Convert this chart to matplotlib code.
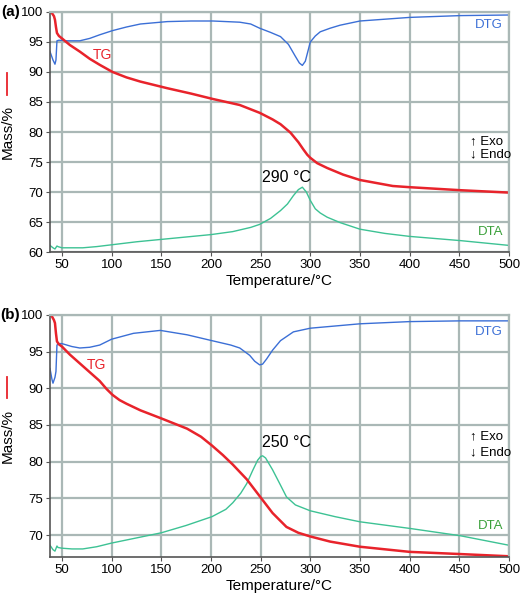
## TG / DTG / DTA curves for two samples, (a) and (b)

import numpy as np
import matplotlib
matplotlib.use('Agg')
import matplotlib.pyplot as plt
from matplotlib.lines import Line2D

plt.rcParams['font.family'] = ['Liberation Sans', 'DejaVu Sans']

## data (temperature in degC, signal in axis units)

# panel (a)
tg_a_t = [38, 40, 42, 43, 44, 45, 47, 50, 58, 68, 78, 88, 101, 115, 129, 156, 180, 202, 229, 249, 262, 270, 280, 288, 293, 297, 300, 307, 317, 333, 350, 383, 400, 451, 500]
tg_a_y = [100, 99.8, 99.3, 98.7, 97.5, 96.5, 96.0, 95.6, 94.5, 93.4, 92.2, 91.2, 90.0, 89.1, 88.4, 87.3, 86.4, 85.5, 84.5, 83.2, 82.1, 81.3, 79.9, 78.3, 77.1, 76.2, 75.7, 74.8, 74.0, 72.9, 72.0, 71.0, 70.8, 70.3, 69.9]

dtg_a_t = [38, 41, 43, 44, 45, 47, 55, 68, 78, 88, 101, 115, 129, 156, 180, 202, 229, 240, 249, 260, 270, 278, 285, 289, 292, 295, 300, 305, 310, 320, 330, 350, 400, 451, 500]
dtg_a_y = [93.4, 92.0, 91.3, 92.0, 95.2, 95.3, 95.2, 95.2, 95.6, 96.2, 96.9, 97.5, 98.0, 98.4, 98.5, 98.5, 98.3, 98.0, 97.3, 96.6, 95.9, 94.6, 92.6, 91.5, 91.1, 91.8, 95.0, 96.0, 96.7, 97.3, 97.8, 98.5, 99.1, 99.4, 99.5]

dta_a_t = [38, 41, 43, 45, 46, 50, 60, 71, 85, 100, 125, 150, 175, 200, 222, 240, 249, 260, 270, 277, 283, 288, 292, 296, 300, 305, 310, 317, 330, 350, 375, 400, 451, 500]
dta_a_y = [61.1, 60.7, 60.5, 61.0, 60.9, 60.7, 60.7, 60.7, 60.9, 61.2, 61.7, 62.1, 62.5, 62.9, 63.4, 64.1, 64.6, 65.6, 66.9, 68.0, 69.4, 70.4, 70.8, 70.0, 68.6, 67.2, 66.5, 65.8, 64.9, 63.8, 63.1, 62.6, 61.9, 61.1]

# panel (b)
tg_b_t = [38, 40, 42, 43, 44, 45, 47, 50, 58, 68, 78, 88, 95, 101, 108, 115, 129, 150, 176, 190, 201, 212, 222, 236, 249, 262, 276, 288, 300, 320, 350, 400, 451, 500]
tg_b_y = [100, 99.8, 99.3, 98.9, 97.5, 96.4, 96.0, 95.7, 94.6, 93.4, 92.2, 91.0, 89.9, 89.1, 88.4, 87.9, 87.0, 85.9, 84.5, 83.4, 82.2, 80.9, 79.6, 77.6, 75.3, 73.0, 71.1, 70.3, 69.8, 69.1, 68.4, 67.7, 67.4, 67.1]

dtg_b_t = [38, 40, 41, 43, 44, 45, 47, 50, 60, 68, 78, 88, 100, 122, 149, 176, 201, 220, 229, 239, 244, 249, 252, 256, 262, 270, 283, 300, 350, 400, 451, 500]
dtg_b_y = [92.7, 91.2, 90.7, 91.5, 92.3, 95.9, 96.1, 96.1, 95.7, 95.5, 95.6, 95.9, 96.7, 97.5, 97.9, 97.3, 96.5, 95.9, 95.5, 94.5, 93.7, 93.2, 93.3, 94.0, 95.2, 96.5, 97.7, 98.2, 98.8, 99.1, 99.2, 99.2]

dta_b_t = [38, 41, 43, 45, 46, 50, 60, 71, 85, 100, 125, 150, 175, 201, 215, 222, 230, 236, 242, 247, 250, 252, 255, 262, 270, 276, 285, 300, 325, 350, 400, 451, 500]
dta_b_y = [68.6, 68.0, 67.8, 68.5, 68.3, 68.2, 68.1, 68.1, 68.4, 68.9, 69.6, 70.3, 71.3, 72.5, 73.5, 74.4, 75.7, 77.0, 78.8, 80.2, 80.7, 80.8, 80.5, 78.9, 76.8, 75.2, 74.1, 73.3, 72.5, 71.8, 70.9, 69.9, 68.6]

xticks = [50, 100, 150, 200, 250, 300, 350, 400, 450, 500]

panels = [
    dict(label='(a)', ylim=(60, 100), yticks=[60, 65, 70, 75, 80, 85, 90, 95, 100],
         tg=(tg_a_t, tg_a_y), dtg=(dtg_a_t, dtg_a_y), dta=(dta_a_t, dta_a_y),
         peak='290 \u00b0C', peak_xy=(276, 72.4), tg_xy=(91, 92.9),
         dtg_y=97.8, dta_y=63.3, exo_y=78.5, endo_y=76.3),
    dict(label='(b)', ylim=(67, 100), yticks=[70, 75, 80, 85, 90, 95, 100],
         tg=(tg_b_t, tg_b_y), dtg=(dtg_b_t, dtg_b_y), dta=(dta_b_t, dta_b_y),
         peak='250 \u00b0C', peak_xy=(276, 82.6), tg_xy=(85, 93.2),
         dtg_y=97.7, dta_y=71.2, exo_y=83.4, endo_y=81.3),
]

RED = '#e8232b'
BLUE = '#3b6fd6'
GREEN = '#3dc294'
GRID = '#aab8b6'

fig = plt.figure(figsize=(5.2, 5.95), dpi=100)
fig.patch.set_facecolor('white')

boxes = [[50/520, 1 - 252/595, 459/520, 240/595],
         [50/520, 1 - 557/595, 459/520, 242/595]]

for p, box in zip(panels, boxes):
    ax = fig.add_axes(box)
    ax.set_xlim(38, 500)
    ax.set_ylim(*p['ylim'])
    ax.set_xticks(xticks)
    ax.set_yticks(p['yticks'])
    ax.grid(True, color=GRID, lw=1.6)
    ax.set_axisbelow(True)
    for s in ['top', 'right']:
        ax.spines[s].set_color(GRID)
        ax.spines[s].set_linewidth(1.6)
    for s in ['left', 'bottom']:
        ax.spines[s].set_color('#555555')
        ax.spines[s].set_linewidth(1.2)
    ax.tick_params(labelsize=9.5, length=3, color='#555555', pad=2)

    ax.plot(*p['dta'], color=GREEN, lw=1.0)
    ax.plot(*p['dtg'], color=BLUE, lw=1.0)
    ax.plot(*p['tg'], color=RED, lw=1.8)

    ax.text(*p['tg_xy'], 'TG', color=RED, fontsize=10, ha='center', va='center')
    ax.text(494, p['dtg_y'], 'DTG', color=BLUE, fontsize=9.5, ha='right', va='center')
    ax.text(494, p['dta_y'], 'DTA', color='#3aa03a', fontsize=9.5, ha='right', va='center')
    ax.text(461, p['exo_y'], '\u2191 Exo', fontsize=9.5, ha='left', va='center')
    ax.text(461, p['endo_y'], '\u2193 Endo', fontsize=9.5, ha='left', va='center')
    ax.text(*p['peak_xy'], p['peak'], fontsize=11.5, ha='center', va='center')

    ax.set_xlabel('Temperature/\u00b0C', fontsize=11, labelpad=2)
    ax.text(-0.092, 0.5, 'Mass/%', rotation=90, fontsize=11,
            transform=ax.transAxes, ha='center', va='center')
    ax.add_line(Line2D([-0.094, -0.094], [0.655, 0.745], transform=ax.transAxes,
                       color=RED, lw=1.3, clip_on=False))
    ax.text(-0.065, 1.0, p['label'], fontsize=11, fontweight='bold',
            transform=ax.transAxes, ha='right', va='center')

fig.savefig('out.png', dpi=100)
